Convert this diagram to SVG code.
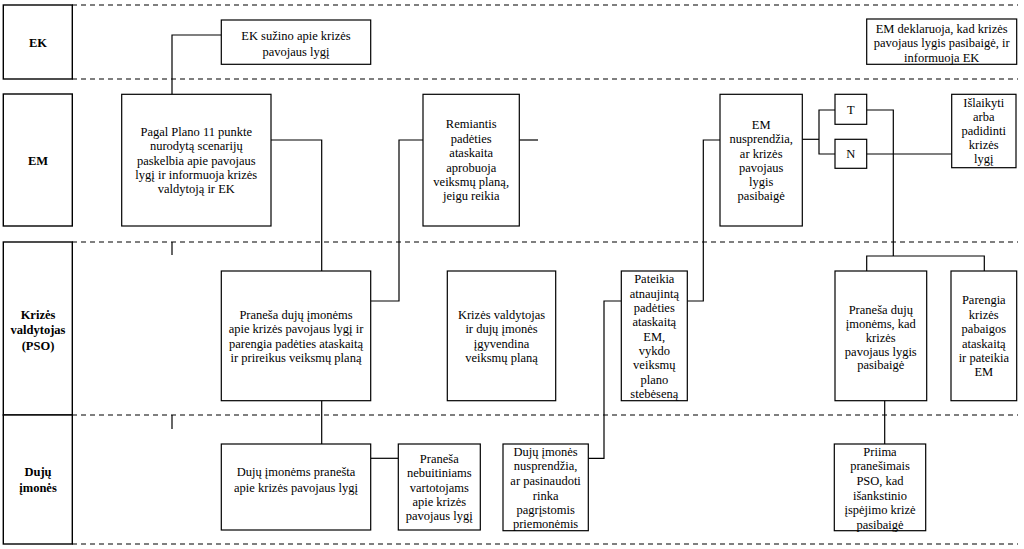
<svg xmlns="http://www.w3.org/2000/svg" width="1024" height="549" viewBox="0 0 1024 549" font-family="'Liberation Serif', 'DejaVu Serif', serif">
<style>
.bg{fill:#fff}
.box{fill:#fff;stroke:#000;stroke-width:1.2}
.hdr{fill:#fff;stroke:#000;stroke-width:1.4}
.lane{stroke:#000;stroke-width:1.2;stroke-dasharray:5 4;fill:none}
.c{stroke:#000;stroke-width:1.2;fill:none}
text{font-family:'Liberation Serif','DejaVu Serif',serif;font-size:12.5px;fill:#000;text-anchor:middle}
.h{font-weight:bold;font-size:12.5px}
</style>
<rect class="bg" x="0" y="0" width="1024" height="549"/>
<g id="lanes">
<line class="lane" x1="72" y1="5" x2="1018" y2="5"/>
<line class="lane" x1="72" y1="79" x2="1018" y2="79"/>
<line class="lane" x1="72" y1="242" x2="1018" y2="242"/>
<line class="lane" x1="72" y1="415" x2="1018" y2="415"/>
<line class="lane" x1="72" y1="544" x2="1018" y2="544"/>
</g>
<g id="hdr-ek"><rect class="hdr" x="3.3" y="5" width="69" height="74"/><text class="h" x="38" y="47">EK</text></g>
<g id="hdr-em"><rect class="hdr" x="3.3" y="94" width="69" height="132"/><text class="h" x="38" y="164.5">EM</text></g>
<g id="hdr-pso"><rect class="hdr" x="3.3" y="242" width="69" height="173"/><text class="h" x="38" y="318.5">Krizės</text><text class="h" x="38" y="334">valdytojas</text><text class="h" x="38" y="349.5">(PSO)</text></g>
<g id="hdr-duj"><rect class="hdr" x="3.3" y="415" width="69" height="129"/><text class="h" x="38" y="476">Dujų</text><text class="h" x="38" y="491.5">įmonės</text></g>
<g id="connectors">
<polyline class="c" points="221,35 172,35 172,94"/>
<line class="c" x1="172" y1="242" x2="172" y2="255"/>
<line class="c" x1="172" y1="415" x2="172" y2="429"/>
<polyline class="c" points="271,140 321.7,140 321.7,271"/>
<polyline class="c" points="371,301 399,301 399,140 423,140"/>
<line class="c" x1="519.3" y1="140" x2="538" y2="140"/>
<line class="c" x1="321.7" y1="401" x2="321.7" y2="444"/>
<line class="c" x1="371" y1="458.3" x2="398.3" y2="458.3"/>
<polyline class="c" points="588.3,458.3 604,458.3 604,301 621.3,301"/>
<polyline class="c" points="687.3,301 703.3,301 703.3,140 720,140"/>
<polyline class="c" points="802.3,139.3 819,139.3"/>
<polyline class="c" points="835,110 819,110 819,154 835,154"/>
<polyline class="c" points="866.7,110 893.3,110 893.3,256"/>
<polyline class="c" points="866.7,271 866.7,256 984.3,256 984.3,271"/>
<line class="c" x1="866.7" y1="154" x2="951.7" y2="154"/>
<line class="c" x1="884.7" y1="401" x2="884.7" y2="444"/>
</g>
<g id="ek-suzino"><rect class="box" x="221.3" y="20" width="149.4" height="44.3"/><text x="296" y="39.8">EK sužino apie krizės</text><text x="296" y="56.3">pavojaus lygį</text></g>
<g id="em-deklaruoja"><rect class="box" x="866.7" y="19" width="150" height="45.3"/><text x="941.7" y="32.7">EM deklaruoja, kad krizės</text><text x="941.7" y="47">pavojaus lygis pasibaigė, ir</text><text x="941.7" y="61.5">informuoja EK</text></g>
<g id="pagal-plano"><rect class="box" x="121.7" y="94.3" width="149.3" height="131.7"/><text x="196.3" y="136">Pagal Plano 11 punkte</text><text x="196.3" y="150.3">nurodytą scenarijų</text><text x="196.3" y="164.6">paskelbia apie pavojaus</text><text x="196.3" y="178.9">lygį ir informuoja krizės</text><text x="196.3" y="193.2">valdytoją ir EK</text></g>
<g id="remiantis"><rect class="box" x="423" y="94.3" width="96.3" height="131.7"/><text x="471.2" y="128.3">Remiantis</text><text x="471.2" y="142.7">padėties</text><text x="471.2" y="157.1">ataskaita</text><text x="471.2" y="171.5">aprobuoja</text><text x="471.2" y="185.9">veiksmų planą,</text><text x="471.2" y="200.3">jeigu reikia</text></g>
<g id="em-nusprendzia"><rect class="box" x="720" y="94.3" width="82.3" height="131.7"/><text x="761.2" y="128.8">EM</text><text x="761.2" y="143.2">nusprendžia,</text><text x="761.2" y="157.6">ar krizės</text><text x="761.2" y="172">pavojaus</text><text x="761.2" y="186.4">lygis</text><text x="761.2" y="200.3">pasibaigė</text></g>
<g id="t"><rect class="box" x="835" y="94.3" width="31.7" height="30"/><text x="850.8" y="114">T</text></g>
<g id="n"><rect class="box" x="835" y="139.3" width="31.7" height="29"/><text x="850.8" y="158.3">N</text></g>
<g id="islaikyti"><rect class="box" x="951.7" y="94.3" width="64.3" height="73.4"/><text x="983.8" y="107">Išlaikyti</text><text x="983.8" y="121">arba</text><text x="983.8" y="135">padidinti</text><text x="983.8" y="149.3">krizės</text><text x="983.8" y="163.3">lygį</text></g>
<g id="pranesa-pso"><rect class="box" x="221.3" y="271" width="149.4" height="129.7"/><text x="296" y="318.6">Praneša dujų įmonėms</text><text x="296" y="333.3">apie krizės pavojaus lygį ir</text><text x="296" y="347.6">parengia padėties ataskaitą</text><text x="296" y="362">ir prireikus veiksmų planą</text></g>
<g id="igyvendina"><rect class="box" x="447.3" y="271" width="108.4" height="129.7"/><text x="501.5" y="318.6">Krizės valdytojas</text><text x="501.5" y="333.3">ir dujų įmonės</text><text x="501.5" y="347.6">įgyvendina</text><text x="501.5" y="362">veiksmų planą</text></g>
<g id="pateikia"><rect class="box" x="621.3" y="271" width="66" height="129.7"/><text x="654.3" y="283.3">Pateikia</text><text x="654.3" y="297.6">atnaujintą</text><text x="654.3" y="311.9">padėties</text><text x="654.3" y="326.3">ataskaitą</text><text x="654.3" y="340.6">EM,</text><text x="654.3" y="354.9">vykdo</text><text x="654.3" y="369.3">veiksmų</text><text x="654.3" y="383.6">plano</text><text x="654.3" y="397.9">stebėseną</text></g>
<g id="pranesa-kad"><rect class="box" x="835" y="271" width="91.7" height="129.7"/><text x="880.8" y="314.3">Praneša dujų</text><text x="880.8" y="327.6">įmonėms, kad</text><text x="880.8" y="342">krizės</text><text x="880.8" y="356">pavojaus lygis</text><text x="880.8" y="369.3">pasibaigė</text></g>
<g id="parengia"><rect class="box" x="951" y="271" width="65.7" height="129.7"/><text x="983.8" y="304.3">Parengia</text><text x="983.8" y="318.6">krizės</text><text x="983.8" y="333.3">pabaigos</text><text x="983.8" y="347.6">ataskaitą</text><text x="983.8" y="362">ir pateikia</text><text x="983.8" y="376">EM</text></g>
<g id="duju-pranesta"><rect class="box" x="221.3" y="444" width="149.4" height="86"/><text x="296" y="476">Dujų įmonėms pranešta</text><text x="296" y="491.6">apie krizės pavojaus lygį</text></g>
<g id="nebuitiniams"><rect class="box" x="398.3" y="444" width="82" height="86"/><text x="439.3" y="462.6">Praneša</text><text x="439.3" y="477">nebuitiniams</text><text x="439.3" y="491.6">vartotojams</text><text x="439.3" y="506">apie krizės</text><text x="439.3" y="520.3">pavojaus lygį</text></g>
<g id="duju-nusprendzia"><rect class="box" x="503" y="444" width="85.3" height="86.7"/><text x="545.6" y="456">Dujų įmonės</text><text x="545.6" y="470.3">nusprendžia,</text><text x="545.6" y="485.3">ar pasinaudoti</text><text x="545.6" y="500">rinka</text><text x="545.6" y="514.3">pagrįstomis</text><text x="545.6" y="527.6">priemonėmis</text></g>
<g id="priima"><rect class="box" x="834.3" y="444" width="91.4" height="86.7"/><text x="880" y="456">Priima</text><text x="880" y="470.3">pranešimais</text><text x="880" y="485.3">PSO, kad</text><text x="880" y="500">išankstinio</text><text x="880" y="514.3">įspėjimo krizė</text><text x="880" y="528.6">pasibaigė</text></g>
</svg>
